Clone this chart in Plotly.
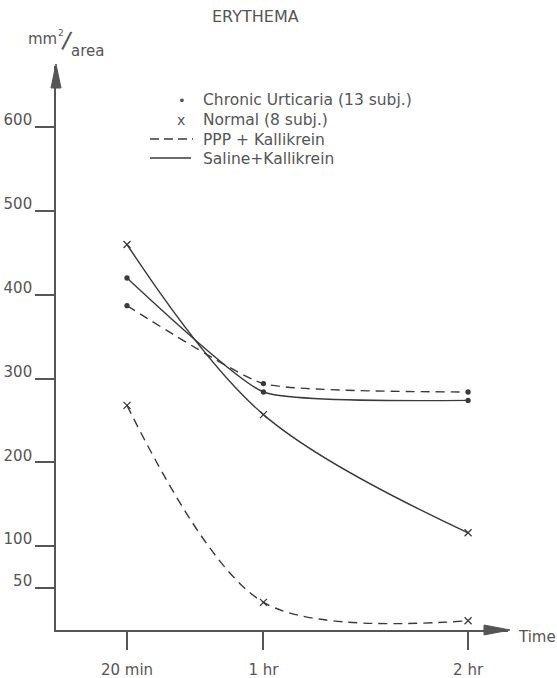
import plotly.graph_objects as go

# ---- data ----
time_min = [20, 60, 120]
time_labels = ["20 min", "1 hr", "2 hr"]
cu_saline = [420, 284, 274]   # Chronic Urticaria, Saline + Kallikrein
cu_ppp = [387, 294, 284]      # Chronic Urticaria, PPP + Kallikrein
nm_saline = [460, 257, 116]   # Normal, Saline + Kallikrein
nm_ppp = [268, 33, 11]        # Normal, PPP + Kallikrein
y_ticks = [50, 100, 200, 300, 400, 500, 600]
y_tick_labels = ["50", "100", "200", "300", "400", "500", "600"]

W, H = 557, 678
ML, MR, MT, MB = 56, 49, 66, 48
PW, PH = W - ML - MR, H - MT - MB

INK = "#3a3a3a"
TXT = "#555555"


def px2x(px):
    return (px - ML) / PW


def py2y(py):
    return (H - MB - py) / PH


fig = go.Figure()

series = [
    (cu_saline, "solid", "circle", 4, 0.45),
    (cu_ppp, "9px,6px", "circle", 4, 0.45),
    (nm_saline, "solid", "x-thin", 7, 1.0),
    (nm_ppp, "9px,6px", "x-thin", 7, 0.9),
]
for vals, dash, sym, size, sm in series:
    fig.add_trace(go.Scatter(
        x=time_min, y=vals, mode="lines",
        line=dict(color=INK, width=1.4, dash=dash, shape="spline", smoothing=sm),
        hoverinfo="skip", showlegend=False))
    fig.add_trace(go.Scatter(
        x=time_min, y=vals, mode="markers",
        marker=dict(symbol=sym, size=size, color=INK,
                    line=dict(color=INK, width=1.3)),
        showlegend=False))

fig.update_layout(
    width=W, height=H,
    margin=dict(l=ML, r=MR, t=MT, b=MB, autoexpand=False),
    paper_bgcolor="white", plot_bgcolor="white",
    font=dict(family="DejaVu Sans", size=15, color=TXT),
    xaxis=dict(range=[-0.82, 131.7], tickvals=time_min, ticktext=time_labels,
               showline=True, linecolor="#555", linewidth=1.6,
               ticks="outside", ticklen=18, tickwidth=1.6, tickcolor="#555",
               ticklabelstandoff=7,
               showgrid=False, zeroline=False, fixedrange=True, automargin=False,
               tickfont=dict(family="DejaVu Sans", size=15, color=TXT)),
    yaxis=dict(range=[0, 673], tickvals=y_ticks, ticktext=y_tick_labels,
               showline=True, linecolor="#555", linewidth=1.6,
               ticks="outside", ticklen=19, tickwidth=1.8, tickcolor="#555",
               ticklabelshift=-7, ticklabelstandoff=0,
               showgrid=False, zeroline=False, fixedrange=True, automargin=False,
               tickfont=dict(family="DejaVu Sans", size=15, color=TXT)),
)

shapes = []
# arrow heads on axes
shapes.append(dict(type="path", xref="paper", yref="paper",
                   path=f"M {px2x(510)},{py2y(630)} L {px2x(484)},{py2y(625)} L {px2x(484)},{py2y(635)} Z",
                   fillcolor="#555", line=dict(color="#555", width=1)))
shapes.append(dict(type="path", xref="paper", yref="paper",
                   path=f"M {px2x(56)},{py2y(64)} L {px2x(51)},{py2y(88)} L {px2x(61)},{py2y(88)} Z",
                   fillcolor="#555", line=dict(color="#555", width=1)))
# legend samples
shapes.append(dict(type="line", xref="paper", yref="paper",
                   x0=px2x(150), x1=px2x(193), y0=py2y(139), y1=py2y(139),
                   line=dict(color=INK, width=1.3, dash="9px,5px")))
shapes.append(dict(type="line", xref="paper", yref="paper",
                   x0=px2x(150), x1=px2x(191), y0=py2y(158), y1=py2y(158),
                   line=dict(color=INK, width=1.3)))
fig.update_layout(shapes=shapes)

ann = []


def txt(text, px, py, size=15, family="DejaVu Sans", xanchor="left", angle=0):
    ann.append(dict(text=text, x=px2x(px), y=py2y(py), xref="paper", yref="paper",
                    xanchor=xanchor, yanchor="middle", showarrow=False, textangle=angle,
                    font=dict(family=family, size=size, color=TXT)))


txt("ERYTHEMA", 255, 17, size=16, xanchor="center")
txt("mm", 26, 39, size=15)
txt("2", 61, 33, size=9, xanchor="center")
txt("/", 67, 41, size=26, family="Liberation Sans", xanchor="center", angle=12)
txt("area", 69, 51, size=15)
txt("Time", 516, 637, size=15)
txt("•", 182, 100, size=13, xanchor="center")
txt("x", 181, 120, size=14, xanchor="center")
txt("Chronic Urticaria (13 subj.)", 201, 100, size=15.5)
txt("Normal (8 subj.)", 201, 120, size=15.5)
txt("PPP + Kallikrein", 201, 140, size=15.5)
txt("Saline+Kallikrein", 201, 159, size=15.5)
fig.update_layout(annotations=ann)

fig.write_html("out.html",
               config={"displayModeBar": False},
               post_script="document.body.style.margin='0';document.body.style.overflow='hidden';")
